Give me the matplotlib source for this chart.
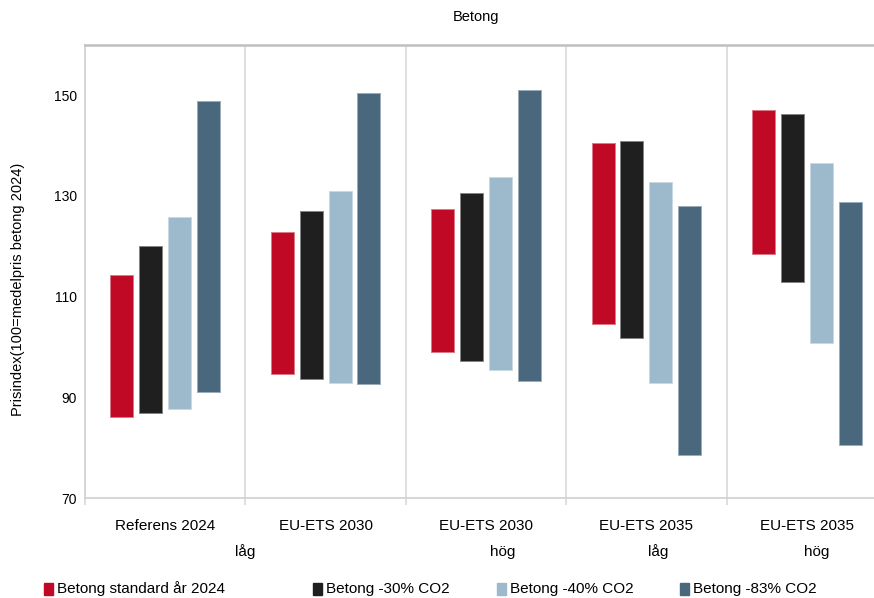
import matplotlib
matplotlib.use("Agg")
import matplotlib.pyplot as plt
from matplotlib.patches import Rectangle
from matplotlib.transforms import blended_transform_factory
from matplotlib.colors import to_rgb

plt.rcParams['font.family'] = ['Liberation Sans', 'DejaVu Sans']

# Scenario categories (two-line labels)
cat_line1 = ["Referens 2024", "EU-ETS 2030", "EU-ETS 2030", "EU-ETS 2035", "EU-ETS 2035"]
cat_line2 = ["", "låg", "hög", "låg", "hög"]

# Price index ranges (low / high) per concrete type
series_names = ["Betong standard år 2024", "Betong -30% CO2",
                "Betong -40% CO2", "Betong -83% CO2"]
std_low = [86.0, 94.6, 99.0, 104.5, 118.5]
std_high = [114.4, 122.9, 127.5, 140.6, 147.1]
co2_30_low = [86.8, 93.7, 97.2, 101.8, 112.9]
co2_30_high = [120.1, 127.0, 130.6, 141.0, 146.3]
co2_40_low = [87.7, 92.8, 95.5, 92.8, 100.7]
co2_40_high = [125.9, 131.0, 133.8, 132.8, 136.6]
co2_83_low = [91.1, 92.6, 93.3, 78.6, 80.6]
co2_83_high = [148.9, 150.4, 151.0, 128.1, 128.9]

yticks = [70, 90, 110, 130, 150]

lows = [std_low, co2_30_low, co2_40_low, co2_83_low]
highs = [std_high, co2_30_high, co2_40_high, co2_83_high]
colors = ["#C00A25", "#1F1F1F", "#9DB9CC", "#49687E"]

fig = plt.figure(figsize=(8.74, 5.98), dpi=100)
ax = fig.add_axes([85 / 874, 1 - 498 / 598, 802 / 874, 453 / 598])

offsets = [-0.27, -0.09, 0.09, 0.27]
width = 0.143
for lo, hi, col, off in zip(lows, highs, colors, offsets):
    xs = [i + off for i in range(len(cat_line1))]
    heights = [h - l for l, h in zip(lo, hi)]
    r, g, b = to_rgb(col)
    edge = (r + (1 - r) * 0.45, g + (1 - g) * 0.45, b + (1 - b) * 0.45)
    ax.bar(xs, heights, bottom=lo, width=width, color=col,
           edgecolor=edge, linewidth=0.7, zorder=3)

ax.set_xlim(-0.5, len(cat_line1) - 0.5)
ax.set_ylim(70, 160)
ax.set_yticks(yticks)
ax.tick_params(axis='y', length=0, pad=6, labelsize=10, colors='#000000')

# group separators
seps = [i + 0.5 for i in range(len(cat_line1) - 1)]
for s in seps:
    ax.axvline(s, color='#D9D9D9', lw=1.2, zorder=1)
ax.set_xticks([-0.5] + seps)
ax.set_xticklabels([])
ax.tick_params(axis='x', length=5, width=1.2, color='#D9D9D9', direction='out')

for side in ['left', 'bottom']:
    ax.spines[side].set_color('#D0D0D0')
    ax.spines[side].set_linewidth(1.2)
ax.spines['top'].set_color('#BFBFBF')
ax.spines['top'].set_linewidth(1.8)
ax.spines['right'].set_visible(False)

# category labels
tr = blended_transform_factory(ax.transData, fig.transFigure)
line2_shift = [0.0, -0.503, 0.104, 0.076, 0.06]
for i, (a, b) in enumerate(zip(cat_line1, cat_line2)):
    ax.text(i, 1 - 526 / 598, a, transform=tr, ha='center', va='center',
            fontsize=11)
    if b:
        ax.text(i + line2_shift[i], 1 - 552 / 598, b, transform=tr,
                ha='center', va='center', fontsize=11)

fig.text(476 / 874, 1 - 17 / 598, "Betong", ha='center', va='center', fontsize=10.5)
fig.text(18 / 874, 1 - 289 / 598, "Prisindex(100=medelpris betong 2024)",
         rotation=90, ha='center', va='center', fontsize=10.5)

# legend
legend_x = [44, 313, 497, 680]
for name, col, lx in zip(series_names, colors, legend_x):
    fig.patches.append(Rectangle((lx / 874, 1 - 595 / 598), 9 / 874, 12 / 598,
                                 transform=fig.transFigure, color=col))
    fig.text((lx + 13) / 874, 1 - 589 / 598, name, ha='left', va='center',
             fontsize=11)

fig.savefig("out.png", dpi=100)
